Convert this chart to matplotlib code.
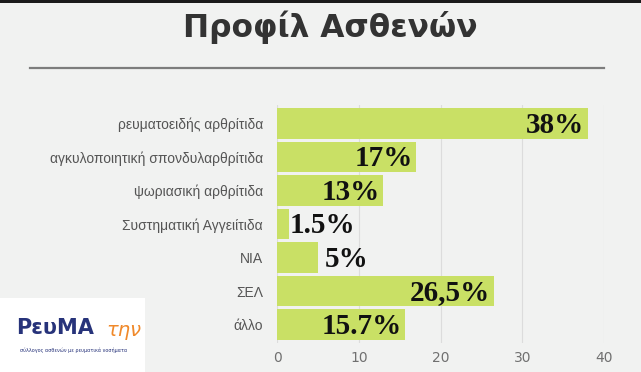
import matplotlib
matplotlib.use("Agg")
import matplotlib.pyplot as plt
from matplotlib.patches import Rectangle
from matplotlib.lines import Line2D

categories = ["ρευματοειδής αρθρίτιδα", "αγκυλοποιητική σπονδυλαρθρίτιδα",
              "ψωριασική αρθρίτιδα", "Συστηματική Αγγειίτιδα", "ΝΙΑ", "ΣΕΛ", "άλλο"]
values = [38, 17, 13, 1.5, 5, 26.5, 15.7]
value_labels = ["38%", "17%", "13%", "1.5%", "5%", "26,5%", "15.7%"]
xticks = [0, 10, 20, 30, 40]
title = "Προφίλ Ασθενών"

bg = "#f1f2f1"
bar_color = "#c9e065"

fig = plt.figure(figsize=(6.41, 3.72), dpi=100, facecolor=bg)

# top dark band
fig.patches.append(Rectangle((0, 1 - 3/372), 1, 3/372, transform=fig.transFigure,
                             facecolor="#1b1b1b", edgecolor="none"))
# title and rule
fig.text(330/641, 1 - 27/372, title, ha="center", va="center", fontsize=22.5,
         fontweight="bold", color="#333333", family="DejaVu Sans")
fig.add_artist(Line2D([30/641, 604/641], [1 - 68/372, 1 - 68/372], transform=fig.transFigure,
                      color="#7d7d7d", lw=1.6))

ax = fig.add_axes([277/641, 1 - 343/372, 327/641, 238/372])
ax.set_facecolor(bg)
y = list(range(len(categories)))
ax.barh(y, values, height=0.92, color=bar_color, zorder=2)
ax.set_ylim(len(categories) - 0.45, -0.55)
ax.set_xlim(0, 40)
ax.set_xticks(xticks)
ax.set_xticklabels([str(t) for t in xticks], color="#707070", fontsize=10, family="DejaVu Sans")
ax.set_yticks(y)
ax.set_yticklabels(categories, color="#555555", fontsize=10, family="Liberation Sans")
ax.tick_params(axis="both", length=0)
ax.tick_params(axis="y", pad=10)
ax.tick_params(axis="x", pad=6)
for s in ax.spines.values():
    s.set_visible(False)
ax.grid(axis="x", color="#dcdcdc", lw=0.8, zorder=0)
ax.set_axisbelow(True)

for yi, v, lab in zip(y, values, value_labels):
    if v < 8:
        ax.text(v + (0.1 if v < 3 else 0.8), yi + 0.05, lab, ha="left", va="center",
                fontsize=21, fontweight="bold", family="Liberation Serif", color="#111111", zorder=3)
    else:
        ax.text(v - 0.4, yi + 0.05, lab, ha="right", va="center",
                fontsize=21, fontweight="bold", family="Liberation Serif", color="#111111", zorder=3)

# logo placeholder
fig.patches.append(Rectangle((0, 0), 145/641, 74/372, transform=fig.transFigure,
                             facecolor="white", edgecolor="none", zorder=5))
fig.text(16/641, 1 - 328/372, "ΡευΜΑ", fontsize=15, fontweight="bold", color="#27337a",
         family="DejaVu Sans", va="center", ha="left", zorder=6)
fig.text(106/641, 1 - 330/372, "την", fontsize=14, style="italic", color="#f0892a",
         family="DejaVu Sans", va="center", ha="left", zorder=6)
fig.text(20/641, 1 - 350/372, "σύλλογος ασθενών με ρευματικά νοσήματα", fontsize=3.5,
         color="#27337a", family="DejaVu Sans", va="center", ha="left", zorder=6)

fig.savefig("out.png", dpi=100, facecolor=bg)
